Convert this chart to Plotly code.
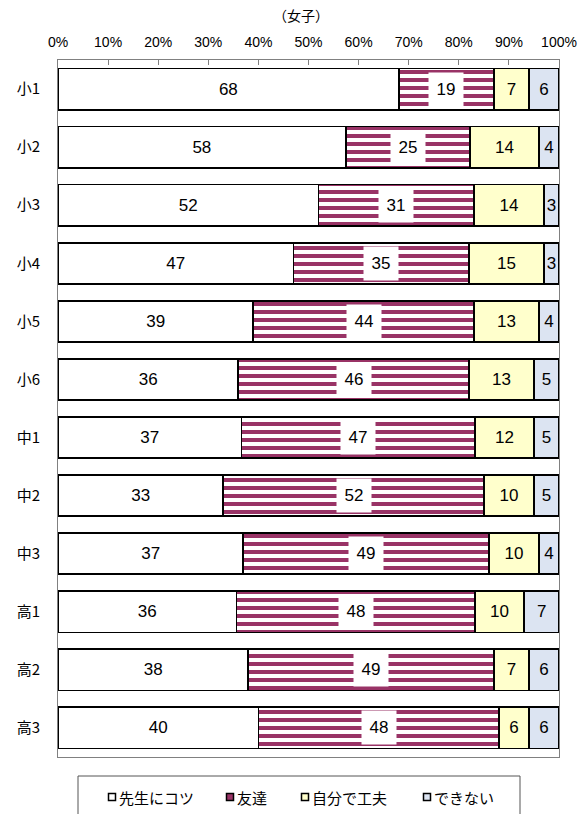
import plotly.graph_objects as go

# Grade levels (top to bottom)
categories = ["小1", "小2", "小3", "小4", "小5", "小6", "中1", "中2", "中3", "高1", "高2", "高3"]

# Responses (%) per grade
sensei = [68, 58, 52, 47, 39, 36, 37, 33, 37, 36, 38, 40]      # 先生にコツ
tomodachi = [19, 25, 31, 35, 44, 46, 47, 52, 49, 48, 49, 48]   # 友達
jibun = [7, 14, 14, 15, 13, 13, 12, 10, 10, 10, 7, 6]          # 自分で工夫
dekinai = [6, 4, 3, 3, 4, 5, 5, 5, 4, 7, 6, 6]                 # できない

series_names = ["先生にコツ", "友達", "自分で工夫", "できない"]
series_colors = ["white", "#993366", "#FFFFCC", "#DCE4F2"]
tick_vals = list(range(0, 101, 10))
tick_text = [f"{v}%" for v in tick_vals]

NUM_FONT = "Liberation Sans Narrow, Liberation Sans, Arial, sans-serif"
JP_FONT = "Noto Sans CJK JP, sans-serif"
LABEL_SIZE = 17

fig = go.Figure()

line = dict(color="black", width=1.8)


def value_text(vals):
    return dict(text=vals, textposition="inside", insidetextanchor="middle", textangle=0,
                textfont=dict(size=LABEL_SIZE, color="black", family=NUM_FONT))


fig.add_trace(go.Bar(
    y=categories, x=sensei, orientation="h", name=series_names[0],
    marker=dict(color=series_colors[0], line=line), **value_text(sensei),
))
fig.add_trace(go.Bar(
    y=categories, x=tomodachi, orientation="h", name=series_names[1],
    marker=dict(color="white", line=line,
                pattern=dict(shape="-", fgcolor=series_colors[1], bgcolor="white",
                             size=8, solidity=0.5, fillmode="replace")),
))
fig.add_trace(go.Bar(
    y=categories, x=jibun, orientation="h", name=series_names[2],
    marker=dict(color=series_colors[2], line=line), **value_text(jibun),
))
fig.add_trace(go.Bar(
    y=categories, x=dekinai, orientation="h", name=series_names[3],
    marker=dict(color=series_colors[3], line=line), **value_text(dekinai),
))

# White-boxed labels centred on the striped 友達 segments (positions in normalised %)
annotations = []
for cat, a, b, c, d in zip(categories, sensei, tomodachi, jibun, dekinai):
    total = a + b + c + d
    xmid = (a + b / 2) / total * 100
    annotations.append(dict(
        x=xmid, y=cat, xref="x", yref="y", text=str(b), showarrow=False,
        font=dict(size=LABEL_SIZE, color="black", family=NUM_FONT),
        bgcolor="white", width=32, height=31,
    ))

annotations.append(dict(
    x=0.485, y=1.0, xref="paper", yref="paper", yshift=45,
    text="（女子）", showarrow=False,
    font=dict(size=14, color="black", family=JP_FONT),
    xanchor="center", yanchor="middle",
))

# Legend drawn below the plot: framed box, small swatches and labels (paper units)
PW, PH = 501.0, 697.0   # plot area size in px


def px_x(px):
    return (px - 58) / PW


def px_y(py):
    return (757 - py) / PH


shapes = [dict(type="rect", xref="paper", yref="paper",
               x0=px_x(78), x1=px_x(520), y0=px_y(776), y1=px_y(830),
               line=dict(color="#555555", width=1), fillcolor="white", layer="above")]

swatch_px = [112, 230, 305, 427]
legend_y = 797
for name, color, sx in zip(series_names, series_colors, swatch_px):
    shapes.append(dict(type="rect", xref="paper", yref="paper",
                       x0=px_x(sx - 3.5), x1=px_x(sx + 3.5),
                       y0=px_y(legend_y + 3.5), y1=px_y(legend_y - 3.5),
                       line=dict(color="black", width=1.5), fillcolor=color, layer="above"))
    annotations.append(dict(x=px_x(sx + 5), y=px_y(legend_y), xref="paper", yref="paper",
                            text=name, showarrow=False, xanchor="left", yanchor="middle",
                            font=dict(size=15, color="black", family=JP_FONT)))

fig.update_layout(
    width=587, height=814,
    margin=dict(l=58, r=28, t=60, b=57, autoexpand=False),
    barmode="stack", barnorm="percent", bargap=0.29,
    plot_bgcolor="white", paper_bgcolor="white",
    font=dict(family=NUM_FONT, color="black"),
    uniformtext=dict(minsize=LABEL_SIZE, mode="show"),
    showlegend=False,
    annotations=annotations,
    shapes=shapes,
    xaxis=dict(
        side="top", range=[0, 100], tickmode="array", tickvals=tick_vals, ticktext=tick_text,
        ticks="inside", ticklen=5, tickcolor="#808080",
        showline=True, linecolor="#808080", linewidth=1, mirror=True,
        showgrid=False, zeroline=False, ticklabelstandoff=6, automargin=False,
        tickfont=dict(size=14, family=NUM_FONT), fixedrange=True,
    ),
    yaxis=dict(
        autorange="reversed", showline=True, linecolor="#808080", linewidth=1,
        mirror=True, ticks="", showgrid=False, ticklabelstandoff=14, automargin=False,
        tickfont=dict(size=15, family=JP_FONT),
    ),
)

fig.write_html("out.html")
